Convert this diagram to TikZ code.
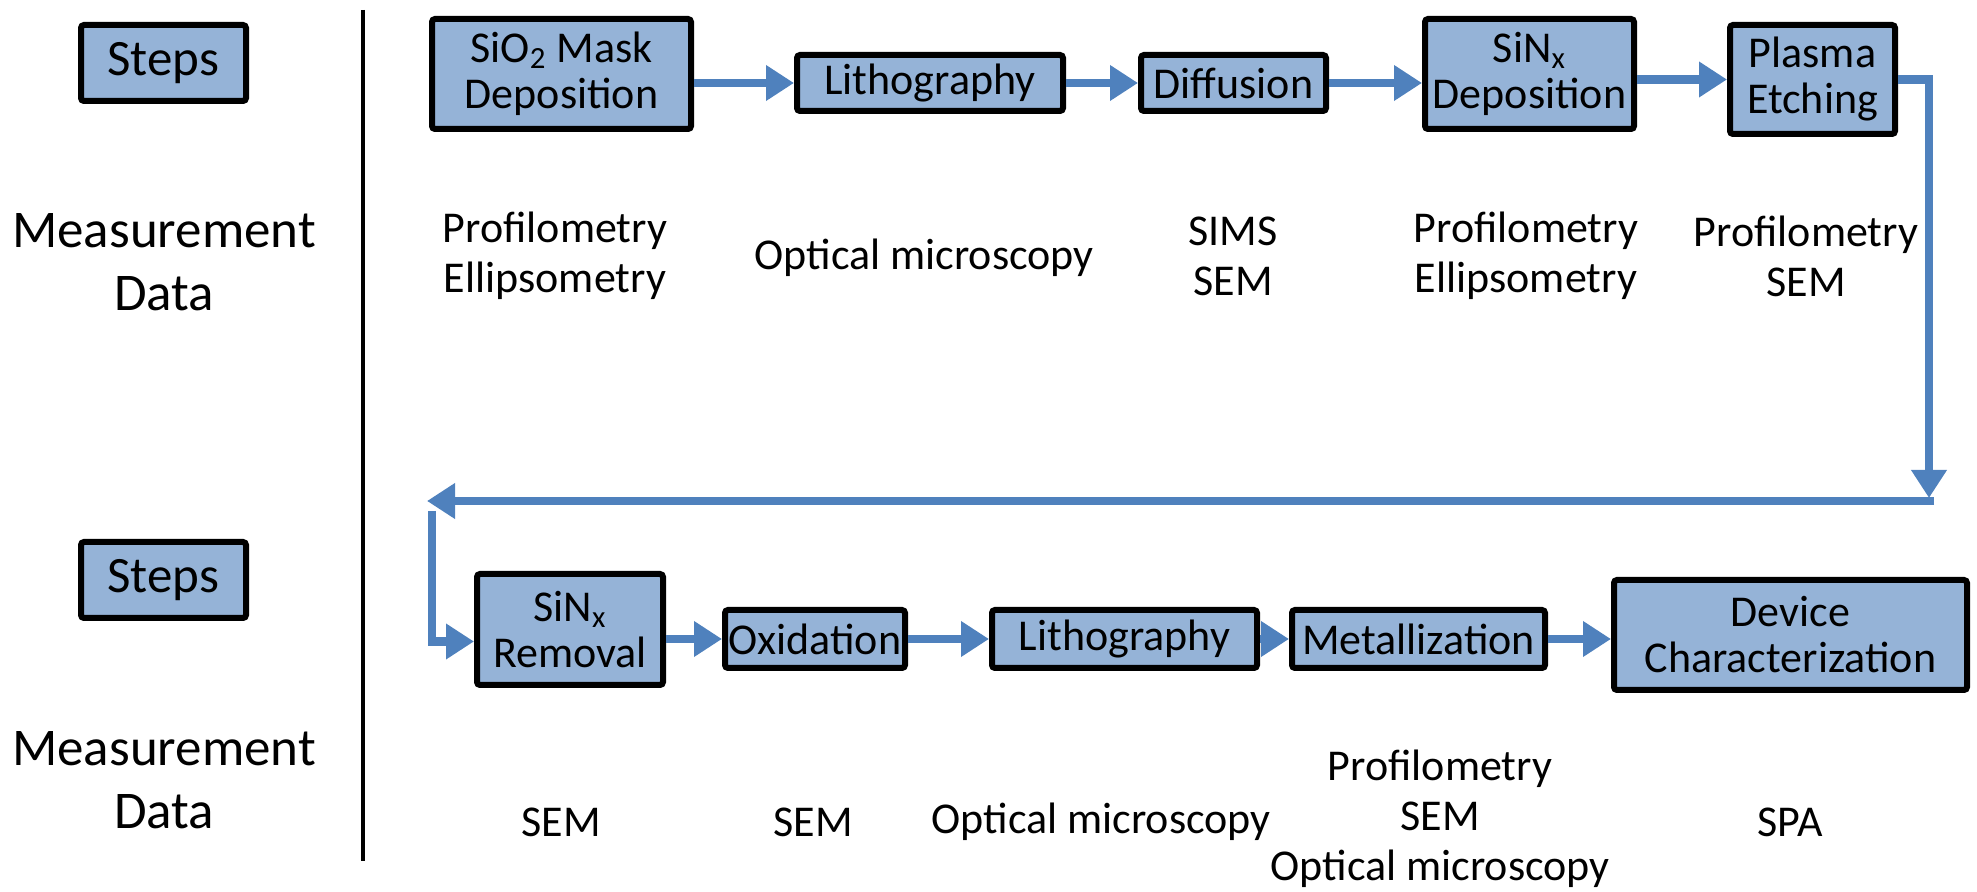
\documentclass[tikz,border=0pt]{standalone}
\usepackage{fontspec}
\setmainfont{Carlito}
\usetikzlibrary{arrows.meta,calc}
\definecolor{boxblue}{HTML}{95B3D7}
\definecolor{arrowblue}{HTML}{4F81BD}
\begin{document}
\begin{tikzpicture}[x=0.5pt,y=-0.5pt,
  stepbox/.style={draw=black,line width=3pt,fill=boxblue,rounded corners=1.5pt,inner sep=0pt,align=center,font=\fontsize{22}{23}\selectfont},
  hdrbox/.style={stepbox,font=\fontsize{25.5}{30}\selectfont,minimum width=82.5pt,minimum height=38pt},
  lbl/.style={align=center,font=\fontsize{22}{25}\selectfont,inner sep=0pt},
  hdr/.style={align=center,font=\fontsize{26.5}{31.5}\selectfont,inner sep=0pt},
  flow/.style={draw=arrowblue,line width=4.2pt,line join=miter,-{Triangle[length=14pt,width=17pt]}}]
\useasboundingbox (0,0) rectangle (1977,892);
% left headers
\node[hdrbox] (s1) at (163.5,63) {Steps};
\node[hdr] (h1) at (164,262) {Measurement\\Data};
\node[hdrbox] (s2) at (163.5,580) {Steps};
\node[hdr] (h2) at (164,780) {Measurement\\Data};
\coordinate (vt) at (363,10);
\coordinate (vb) at (363,861);
\draw[line width=1.6pt] (vt) -- (vb);
% top row
\node[stepbox,minimum width=129.5pt,minimum height=55pt] (sio) at (561.5,74) {SiO\textsubscript{2} Mask\\Deposition};
\node[stepbox,minimum width=133pt,minimum height=28pt] (lith1) at (930,83) {Lithography};
\node[stepbox,minimum width=92.5pt,minimum height=28pt] (diff) at (1233.5,83) {Diffusion};
\node[stepbox,minimum width=104.5pt,minimum height=55pt] (sind) at (1529.5,74) {SiN\textsubscript{x}\\Deposition};
\node[stepbox,minimum width=82.5pt,minimum height=54.5pt] (plasma) at (1812.5,79.5) {Plasma\\Etching};
% bottom row
\node[stepbox,minimum width=93pt,minimum height=55.5pt] (sinr) at (570,629.5) {SiN\textsubscript{x}\\Removal};
\node[stepbox,minimum width=90pt,minimum height=29pt] (ox) at (815,639) {Oxidation};
\node[stepbox,minimum width=132.5pt,minimum height=29pt] (lith2) at (1124.5,639) {Lithography};
\node[stepbox,minimum width=126.5pt,minimum height=29pt] (metal) at (1418.5,639) {Metallization};
\node[stepbox,minimum width=176.5pt,minimum height=55pt] (dev) at (1790.5,635) {Device\\Characterization};
% measurement labels
\node[lbl] (t1) at (555,256) {Profilometry\\Ellipsometry};
\node[lbl] (t2) at (924,258) {Optical microscopy};
\node[lbl] (t3) at (1233,256) {SIMS\\SEM};
\node[lbl] (t4) at (1526,256) {Profilometry\\Ellipsometry};
\node[lbl] (t5) at (1806,256) {Profilometry\\SEM};
\node[lbl] (b1) at (561,822) {SEM};
\node[lbl] (b2) at (813,822) {SEM};
\node[lbl] (b3) at (1101,822) {Optical microscopy};
\node[lbl] (b4) at (1440,819) {Profilometry\\SEM\\Optical microscopy};
\node[lbl] (b5) at (1790,822) {SPA};
% connectors
\draw[flow] (sio.east |- lith1.west) -- (lith1.west);
\draw[flow] (lith1.east) -- (diff.west);
\draw[flow] (diff.east) -- (diff.east -| sind.west);
\draw[flow] (sind.east |- plasma.west) -- (plasma.west);
\coordinate (c1) at (1929,498);
\draw[flow] (plasma.east) -| (c1);
\coordinate (c2) at (1934,501);
\coordinate (c3) at (427,501);
\draw[flow] (c2) -- (c3);
\coordinate (c4) at (432,511);
\draw[flow] (c4) |- ($(sinr.west)+(0,12)$);
\draw[flow] (sinr.east |- ox.west) -- (ox.west);
\draw[flow] (ox.east) -- (lith2.west);
\draw[flow] (lith2.east) -- (metal.west);
\draw[flow] (metal.east) -- (metal.east -| dev.west);
\end{tikzpicture}
\end{document}
